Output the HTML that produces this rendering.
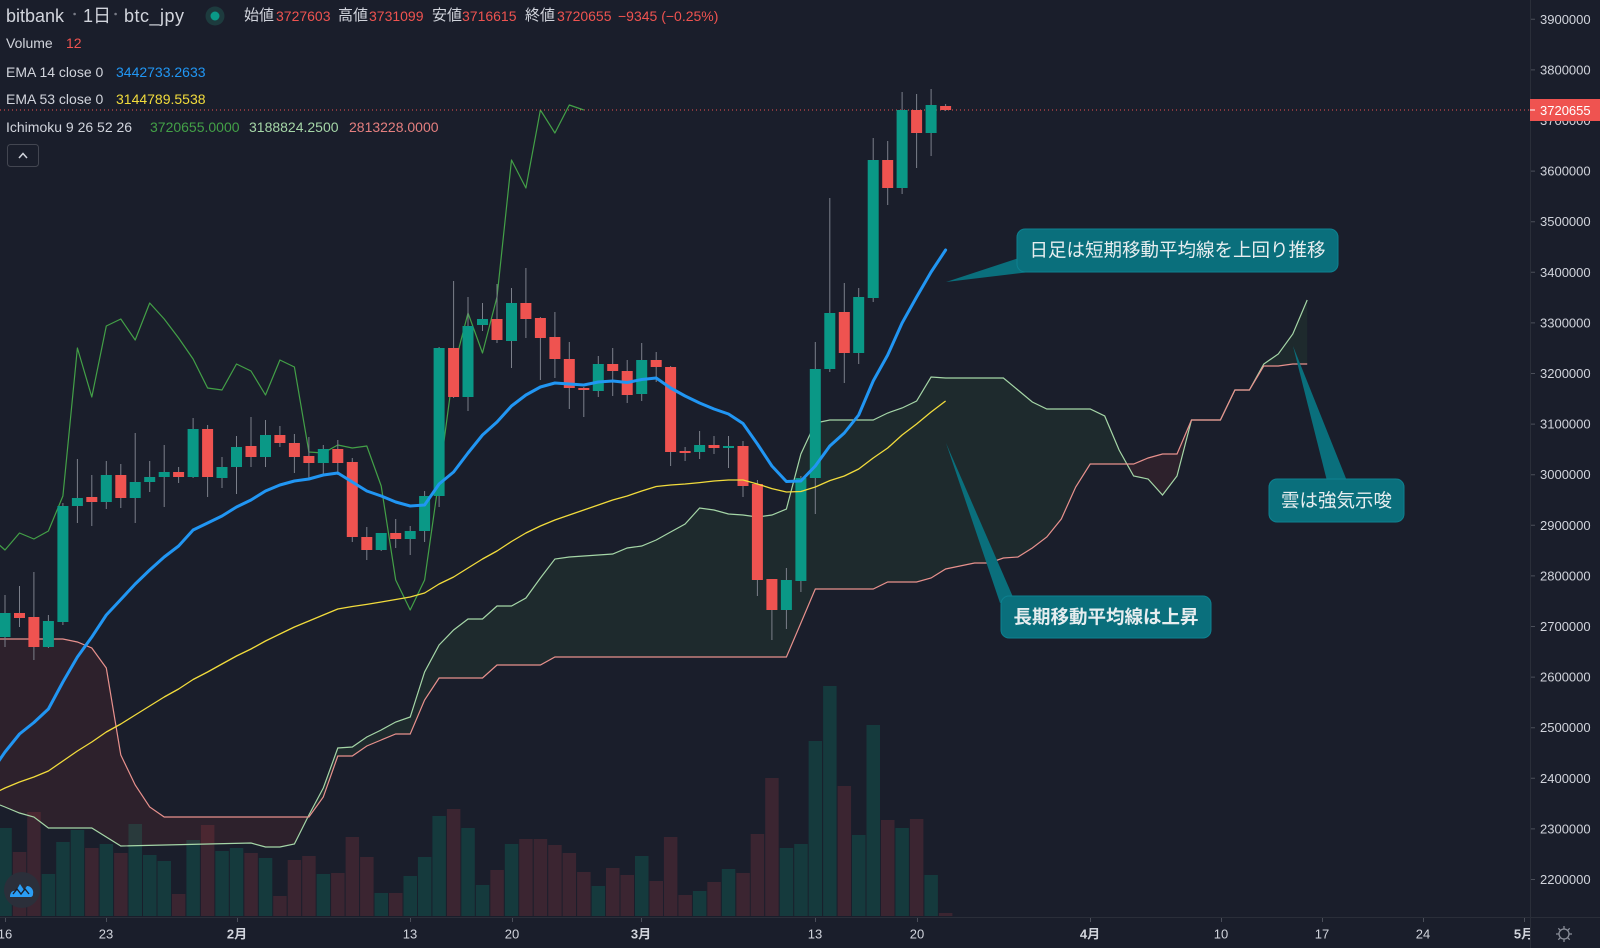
<!DOCTYPE html>
<html><head><meta charset="utf-8">
<style>
html,body{margin:0;padding:0;background:#1a1e2b;}
#w{position:relative;width:1600px;height:948px;overflow:hidden;background:#1a1e2b;font-family:"Liberation Sans","Noto Sans CJK JP",sans-serif;color:#d1d4dc;}
.t{position:absolute;font-size:14px;line-height:20px;white-space:nowrap;}
.j{font-size:15px;}
.r{color:#ef5350;}
svg{position:absolute;left:0;top:0;}
</style></head><body><div id="w">
<svg width="1600" height="948" viewBox="0 0 1600 948">
<defs><clipPath id="c"><rect x="0" y="0" width="1530" height="917"/></clipPath></defs>
<g clip-path="url(#c)">
<path fill="#153a3d" d="M-1.7 828h13.5V916h-13.5zM41.7 874h13.5V916h-13.5zM56.2 842h13.5V916h-13.5zM70.7 830h13.5V916h-13.5zM99.6 844h13.5V916h-13.5zM128.5 824h13.5V916h-13.5zM143 855h13.5V916h-13.5zM157.5 861h13.5V916h-13.5zM186.4 840h13.5V916h-13.5zM215.3 851h13.5V916h-13.5zM229.8 848h13.5V916h-13.5zM258.8 858h13.5V916h-13.5zM316.6 874h13.5V916h-13.5zM374.5 893h13.5V916h-13.5zM403.5 876h13.5V916h-13.5zM417.9 857h13.5V916h-13.5zM432.4 816h13.5V916h-13.5zM461.3 828h13.5V916h-13.5zM475.8 885h13.5V916h-13.5zM504.8 844h13.5V916h-13.5zM591.6 886h13.5V916h-13.5zM635 856h13.5V916h-13.5zM692.9 891h13.5V916h-13.5zM721.8 869h13.5V916h-13.5zM779.7 848h13.5V916h-13.5zM794.2 844h13.5V916h-13.5zM808.6 741h13.5V916h-13.5zM823.1 686h13.5V916h-13.5zM852 835h13.5V916h-13.5zM866.5 725h13.5V916h-13.5zM895.4 828h13.5V916h-13.5zM924.4 875h13.5V916h-13.5z"/>
<path fill="#3b2531" d="M12.8 852h13.5V916h-13.5zM27.2 812h13.5V916h-13.5zM85.1 848h13.5V916h-13.5zM114.1 853h13.5V916h-13.5zM171.9 894h13.5V916h-13.5zM200.9 825h13.5V916h-13.5zM244.3 853h13.5V916h-13.5zM273.2 896h13.5V916h-13.5zM287.7 860h13.5V916h-13.5zM302.2 856h13.5V916h-13.5zM331.1 873h13.5V916h-13.5zM345.6 837h13.5V916h-13.5zM360.1 857h13.5V916h-13.5zM389 893h13.5V916h-13.5zM446.9 809h13.5V916h-13.5zM490.3 870h13.5V916h-13.5zM519.2 839h13.5V916h-13.5zM533.7 839h13.5V916h-13.5zM548.2 845h13.5V916h-13.5zM562.6 853h13.5V916h-13.5zM577.1 872h13.5V916h-13.5zM606 868h13.5V916h-13.5zM620.5 875h13.5V916h-13.5zM649.5 881h13.5V916h-13.5zM663.9 837h13.5V916h-13.5zM678.4 895h13.5V916h-13.5zM707.3 882h13.5V916h-13.5zM736.3 873h13.5V916h-13.5zM750.7 834h13.5V916h-13.5zM765.2 778h13.5V916h-13.5zM837.6 786h13.5V916h-13.5zM881 820h13.5V916h-13.5zM909.9 819h13.5V916h-13.5zM938.9 913h13.5V916h-13.5z"/>
<polygon fill="rgba(244,67,54,0.09)" points="0,639 62.9,639 77.4,642 91.8,648 106.3,668 120.8,755 135.2,785 149.7,807 164.2,817 308,817 294.4,844 279.9,847 265.5,847 251,843 120.8,846 91.8,828 48.4,828 33.9,817 19.5,813 5,807 0,805"/>
<polygon fill="rgba(67,160,71,0.1)" points="308,817 308.9,815 323.3,788 337.8,748 352.3,747 366.8,737 381.2,730 395.7,722 410.2,717 424.6,672 439.1,645 453.6,630 468,619 482.5,619 497,606 511.5,606 525.9,598 540.4,578 554.9,559 569.3,557 583.8,556 598.3,555 612.7,554 627.2,548 641.7,546 656.2,540 670.6,532 685.1,524 699.6,508 714,510 728.5,514 743,515 757.4,517 771.9,515 786.4,509 800.9,454 815.3,423 829.8,420 873.2,420 887.7,413 902.1,408 916.6,401 931.1,377 945.6,378 1003.4,378 1017.9,390 1032.3,402 1046.8,409 1090.2,409 1104.7,416 1119.1,450 1126.9,464 1090.2,464 1075.7,487 1061.3,519 1046.8,537 1032.3,548 1017.9,557 1003.4,558 989,563 974.5,563 960,566 945.6,569 931.1,578 916.6,582 887.7,582 873.2,589 815.3,589 800.9,623 786.4,657 554.9,657 540.4,665 497,665 482.5,678 439.1,678 424.6,700 410.2,734 395.7,734 381.2,740 366.8,746 352.3,756 337.8,756 323.3,797"/>
<polygon fill="rgba(244,67,54,0.09)" points="1126.9,464 1133.6,464 1148.1,458 1162.5,454 1177,454 1191.5,420 1177,476 1162.5,495 1148.1,479 1133.6,476"/>
<polygon fill="rgba(67,160,71,0.1)" points="1249.4,390 1263.8,364 1278.3,354 1292.8,334 1307.2,300 1307.2,364 1292.8,364 1278.3,366 1263.8,366"/>
<polyline fill="none" stroke="#a5d6a7" stroke-width="1.2" points="0,805 5,807 19.5,813 33.9,817 48.4,828 91.8,828 120.8,846 251,843 265.5,847 279.9,847 294.4,844 308.9,815 323.3,788 337.8,748 352.3,747 366.8,737 381.2,730 395.7,722 410.2,717 424.6,672 439.1,645 453.6,630 468,619 482.5,619 497,606 511.5,606 525.9,598 540.4,578 554.9,559 569.3,557 583.8,556 598.3,555 612.7,554 627.2,548 641.7,546 656.2,540 670.6,532 685.1,524 699.6,508 714,510 728.5,514 743,515 757.4,517 771.9,515 786.4,509 800.9,454 815.3,423 829.8,420 873.2,420 887.7,413 902.1,408 916.6,401 931.1,377 945.6,378 1003.4,378 1017.9,390 1032.3,402 1046.8,409 1090.2,409 1104.7,416 1119.1,450 1133.6,476 1148.1,479 1162.5,495 1177,476 1191.5,420 1220.4,420 1234.9,390 1249.4,390 1263.8,364 1278.3,354 1292.8,334 1307.2,300"/>
<polyline fill="none" stroke="#e8918d" stroke-width="1.2" points="0,639 62.9,639 77.4,642 91.8,648 106.3,668 120.8,755 135.2,785 149.7,807 164.2,817 308.9,817 323.3,797 337.8,756 352.3,756 366.8,746 381.2,740 395.7,734 410.2,734 424.6,700 439.1,678 482.5,678 497,665 540.4,665 554.9,657 786.4,657 800.9,623 815.3,589 873.2,589 887.7,582 916.6,582 931.1,578 945.6,569 960,566 974.5,563 989,563 1003.4,558 1017.9,557 1032.3,548 1046.8,537 1061.3,519 1075.7,487 1090.2,464 1133.6,464 1148.1,458 1162.5,454 1177,454 1191.5,420 1220.4,420 1234.9,390 1249.4,390 1263.8,366 1278.3,366 1292.8,364 1307.2,364"/>
<polyline fill="none" stroke="#43a047" stroke-width="1.2" stroke-linejoin="round" points="-9.5,537 5,550 19.5,533 33.9,539 48.4,531 62.9,496 77.4,348 91.8,397 106.3,326 120.8,319 135.2,340 149.7,303 164.2,319 178.6,338 193.1,359 207.6,388 222,390 236.5,364 251,371 265.5,395 279.9,360 294.4,367 308.9,452 323.3,453 337.8,445 352.3,448 366.8,446 381.2,486 395.7,580 410.2,610 424.6,580 439.1,478 453.6,369 468,313 482.5,353 497,297 511.5,160 525.9,188 540.4,110 554.9,133 569.3,105 583.8,110"/>
<line x1="0" y1="110" x2="1530" y2="110" stroke="#ef5350" stroke-width="1" stroke-dasharray="1 3"/>
<path stroke="#7b7f8a" stroke-width="1" fill="none" d="M5 595V647M19.5 586V627M33.9 572V660M48.4 615V648M62.9 503V625M77.4 459V523M91.8 475V526M106.3 461V509M120.8 464V508M135.2 433V523M149.7 461V492M164.2 445V507M178.6 467V483M193.1 418V478M207.6 425V497M222 457V488M236.5 436V494M251 417V467M265.5 420V467M279.9 426V447M294.4 434V473M308.9 437V478M323.3 445V475M337.8 440V475M352.3 458V542M366.8 527V560M381.2 533V551M395.7 519V548M410.2 526V555M424.6 491V542M439.1 347V507M453.6 281V398M468 297V411M482.5 303V331M497 284V343M511.5 288V368M525.9 268V338M540.4 317V380M554.9 312V378M569.3 342V409M583.8 387V417M598.3 356V397M612.7 348V396M627.2 360V403M641.7 343V401M656.2 352V382M670.6 366V466M685.1 447V461M699.6 431V459M714 436V454M728.5 436V468M743 441V497M757.4 480V596M771.9 579V640M786.4 568V629M800.9 476V592M815.3 342V514M829.8 198V372M844.3 283V383M858.7 288V364M873.2 138V302M887.7 141V205M902.1 92V194M916.6 94V168M931.1 89V156M945.6 104V111"/>
<path fill="#0a9886" d="M-0.5 613h11v24h-11zM42.9 621h11v26h-11zM57.4 506h11v116h-11zM71.9 498h11v8h-11zM100.8 475h11v27h-11zM129.7 482h11v16h-11zM144.2 477h11v5h-11zM158.7 472h11v5h-11zM187.6 429h11v48h-11zM216.5 467h11v11h-11zM231 447h11v20h-11zM260 435h11v22h-11zM317.8 449h11v14h-11zM375.7 533h11v17h-11zM404.7 531h11v8h-11zM419.1 496h11v35h-11zM433.6 348h11v148h-11zM462.5 326h11v71h-11zM477 319h11v6h-11zM506 303h11v38h-11zM592.8 364h11v27h-11zM636.2 360h11v34h-11zM694.1 445h11v7h-11zM723 446h11v2h-11zM780.9 580h11v30h-11zM795.4 478h11v103h-11zM809.8 369h11v109h-11zM824.3 313h11v56h-11zM853.2 297h11v56h-11zM867.7 160h11v138h-11zM896.6 110h11v78h-11zM925.6 105h11v28h-11z"/>
<path fill="#ef5350" d="M14 613h11v5h-11zM28.4 617h11v30h-11zM86.3 497h11v5h-11zM115.3 475h11v23h-11zM173.1 472h11v5h-11zM202.1 429h11v48h-11zM245.5 446h11v11h-11zM274.4 435h11v8h-11zM288.9 443h11v14h-11zM303.4 456h11v7h-11zM332.3 449h11v14h-11zM346.8 462h11v75h-11zM361.3 537h11v13h-11zM390.2 533h11v6h-11zM448.1 348h11v49h-11zM491.5 319h11v21h-11zM520.4 303h11v16h-11zM534.9 318h11v20h-11zM549.4 337h11v22h-11zM563.8 359h11v29h-11zM578.3 388h11v2h-11zM607.2 364h11v7h-11zM621.7 371h11v24h-11zM650.7 360h11v7h-11zM665.1 367h11v85h-11zM679.6 451h11v2h-11zM708.5 445h11v3h-11zM737.5 446h11v40h-11zM751.9 484h11v96h-11zM766.4 579h11v31h-11zM838.8 312h11v41h-11zM882.2 160h11v28h-11zM911.1 110h11v23h-11zM940.1 106h11v4h-11z"/>
<polyline fill="none" stroke="#f2dc3c" stroke-width="1.3" stroke-linejoin="round" points="-9.5,795 5,788 19.5,782 33.9,777 48.4,771 62.9,761 77.4,751 91.8,742 106.3,732 120.8,724 135.2,715 149.7,706 164.2,697 178.6,689 193.1,679.5 207.6,672 222,664 236.5,656 251,649 265.5,641 279.9,634 294.4,627 308.9,621 323.3,615 337.8,609 352.3,606.5 366.8,604.4 381.2,602 395.7,599.5 410.2,597 424.6,593 439.1,584 453.6,577 468,568 482.5,559 497,551 511.5,541.5 525.9,533 540.4,526 554.9,520 569.3,515 583.8,510 598.3,505 612.7,500 627.2,496 641.7,491 656.2,486.5 670.6,485 685.1,484 699.6,482.6 714,481 728.5,480 743,480 757.4,484 771.9,488.6 786.4,492 800.9,491.5 815.3,487 829.8,480.6 844.3,476 858.7,469 873.2,458 887.7,448 902.1,435 916.6,424 931.1,412 945.6,401"/>
<polyline fill="none" stroke="#2196f3" stroke-width="3" stroke-linejoin="round" stroke-linecap="round" points="-9.5,773 5,752 19.5,734 33.9,722.5 48.4,709 62.9,682 77.4,657 91.8,637 106.3,615 120.8,599.5 135.2,584 149.7,570 164.2,557 178.6,546 193.1,530 207.6,523 222,516 236.5,507 251,500 265.5,491 279.9,485 294.4,481 308.9,479 323.3,475 337.8,473 352.3,482 366.8,491 381.2,496 395.7,502 410.2,506 424.6,505 439.1,484 453.6,472 468,453 482.5,435 497,422 511.5,406 525.9,395 540.4,387 554.9,383 569.3,384 583.8,385 598.3,382 612.7,381 627.2,382.5 641.7,379.5 656.2,378 670.6,388 685.1,396 699.6,403 714,409 728.5,414 743,423.5 757.4,444 771.9,466 786.4,481.5 800.9,481 815.3,466 829.8,446 844.3,433 858.7,415 873.2,381 887.7,355 902.1,323 916.6,297 931.1,272 945.6,250"/>
</g>
<!-- callouts -->
<g fill="#0a6f7c">
<polygon points="1019,258 946,282 1030,272"/>
<rect x="1017" y="229" width="321" height="43" rx="8" stroke="#0d8190" stroke-width="1"/>
<polygon points="1327,481 1293,346 1347,481"/>
<rect x="1269" y="479" width="135" height="43" rx="8" stroke="#0d8190" stroke-width="1"/>
<polygon points="946,443 1000,603 1013,597"/>
<rect x="1001" y="596" width="210" height="42" rx="8" stroke="#0d8190" stroke-width="1"/>
</g>
<g font-family="Liberation Sans, Noto Sans CJK JP, sans-serif" fill="#e6edef" text-anchor="middle">
<text x="1177.5" y="256.5" font-size="18.5">日足は短期移動平均線を上回り推移</text>
<text x="1336.5" y="507" font-size="18.5">雲は強気示唆</text>
<text x="1106" y="623.5" font-size="18.5" font-weight="bold">長期移動平均線は上昇</text>
</g>
<!-- axes -->
<line x1="1530.5" y1="0" x2="1530.5" y2="948" stroke="#2a2e39"/>
<line x1="0" y1="917.5" x2="1600" y2="917.5" stroke="#2a2e39"/>
<path stroke="#4a4e59" d="M1531 19.3h4M1531 69.9h4M1531 120.5h4M1531 171.1h4M1531 221.7h4M1531 272.3h4M1531 322.9h4M1531 373.5h4M1531 424.1h4M1531 474.7h4M1531 525.3h4M1531 575.9h4M1531 626.5h4M1531 677.1h4M1531 727.7h4M1531 778.3h4M1531 828.9h4M1531 879.5h4M5.5 918v4M106.5 918v4M237.5 918v4M410.5 918v4M512.5 918v4M641.5 918v4M815.5 918v4M917.5 918v4M1090.5 918v4M1221.5 918v4M1322.5 918v4M1423.5 918v4M1524.5 918v4"/>
<g font-family="Liberation Sans, sans-serif" font-size="13" fill="#d1d4dc">
<text x="1540" y="24">3900000</text>
<text x="1540" y="74.5">3800000</text>
<text x="1540" y="125">3700000</text>
<text x="1540" y="175.6">3600000</text>
<text x="1540" y="226.2">3500000</text>
<text x="1540" y="276.8">3400000</text>
<text x="1540" y="327.4">3300000</text>
<text x="1540" y="378">3200000</text>
<text x="1540" y="428.6">3100000</text>
<text x="1540" y="479.2">3000000</text>
<text x="1540" y="529.8">2900000</text>
<text x="1540" y="580.4">2800000</text>
<text x="1540" y="631">2700000</text>
<text x="1540" y="681.6">2600000</text>
<text x="1540" y="732.2">2500000</text>
<text x="1540" y="782.8">2400000</text>
<text x="1540" y="833.4">2300000</text>
<text x="1540" y="884">2200000</text>
</g>
<rect x="1530" y="99" width="70" height="22" fill="#ef5350"/>
<line x1="1530" y1="110" x2="1535" y2="110" stroke="#ffffff"/>
<text x="1540" y="114.8" font-family="Liberation Sans, sans-serif" font-size="13" fill="#ffffff">3720655</text>
<svg x="0" y="918" width="1530" height="30">
<g font-family="Liberation Sans, Noto Sans CJK JP, sans-serif" font-size="13" fill="#d1d4dc" text-anchor="middle">
<text x="5" y="20.5">16</text>
<text x="106" y="20.5">23</text>
<text x="237" y="20.5" font-weight="bold">2月</text>
<text x="410" y="20.5">13</text>
<text x="512" y="20.5">20</text>
<text x="641" y="20.5" font-weight="bold">3月</text>
<text x="815" y="20.5">13</text>
<text x="917" y="20.5">20</text>
<text x="1090" y="20.5" font-weight="bold">4月</text>
<text x="1221" y="20.5">10</text>
<text x="1322" y="20.5">17</text>
<text x="1423" y="20.5">24</text>
<text x="1524" y="20.5" font-weight="bold">5月</text>
</g>
</svg>
<!-- gear -->
<g stroke="#8a8e99" stroke-width="1.3" fill="none">
<circle cx="1564" cy="934" r="5"/>
<path d="M1564 926v3M1564 939v3M1556 934h3M1569 934h3M1558.3 928.3l2.1 2.1M1567.6 937.6l2.1 2.1M1558.3 939.7l2.1-2.1M1567.6 930.4l2.1-2.1"/>
</g>
<!-- logo -->
<circle cx="22" cy="890" r="18" fill="#2b2f3a"/>
<path d="M10 897c0-5 3-7 6-6l4-7 4 6 3-4c4 0 7 4 6 8 0 2-1 3-3 3H12c-1 0-2-0-2-0z" fill="#2a9df4"/>
<path d="M13 894l4-5 4 5 4-5 4 5" stroke="#1a1e2b" stroke-width="1.4" fill="none"/>
<!-- status dot -->
<circle cx="215" cy="16" r="9.5" fill="#1d3b3e"/>
<circle cx="215" cy="16" r="4.5" fill="#0a9a88"/>
<!-- collapse button -->
<rect x="7.5" y="144.5" width="31" height="22" rx="3" fill="none" stroke="#434651"/>
<polyline points="19,158 23,153.5 27,158" fill="none" stroke="#d1d4dc" stroke-width="1.5"/>
<circle cx="74.6" cy="14" r="1.3" fill="#787b86"/>
<circle cx="115.6" cy="14" r="1.3" fill="#787b86"/>
</svg>
<div class="t" style="left:6px;top:5px;font-size:18px;line-height:22px;">bitbank</div>
<div class="t" style="left:83px;top:5px;font-size:18px;line-height:22px;">1日</div>
<div class="t" style="left:124px;top:5px;font-size:18px;line-height:22px;letter-spacing:0.5px;">btc_jpy</div>
<div class="t j" style="left:244px;top:6px;">始値</div><div class="t r" style="left:276px;top:6px;">3727603</div>
<div class="t j" style="left:338px;top:6px;">高値</div><div class="t r" style="left:369px;top:6px;">3731099</div>
<div class="t j" style="left:432px;top:6px;">安値</div><div class="t r" style="left:462px;top:6px;">3716615</div>
<div class="t j" style="left:525px;top:6px;">終値</div><div class="t r" style="left:557px;top:6px;">3720655</div>
<div class="t r" style="left:618px;top:6px;">−9345 (−0.25%)</div>
<div class="t" style="left:6px;top:33px;">Volume</div><div class="t r" style="left:66px;top:33px;">12</div>
<div class="t" style="left:6px;top:62px;">EMA 14 close 0</div><div class="t" style="left:116px;top:62px;color:#2196f3;">3442733.2633</div>
<div class="t" style="left:6px;top:89px;">EMA 53 close 0</div><div class="t" style="left:116px;top:89px;color:#f2dc3c;">3144789.5538</div>
<div class="t" style="left:6px;top:117px;">Ichimoku 9 26 52 26</div>
<div class="t" style="left:150px;top:117px;color:#43a047;">3720655.0000</div>
<div class="t" style="left:249px;top:117px;color:#a5d6a7;">3188824.2500</div>
<div class="t" style="left:349px;top:117px;color:#e57f7f;">2813228.0000</div>
</div></body></html>
